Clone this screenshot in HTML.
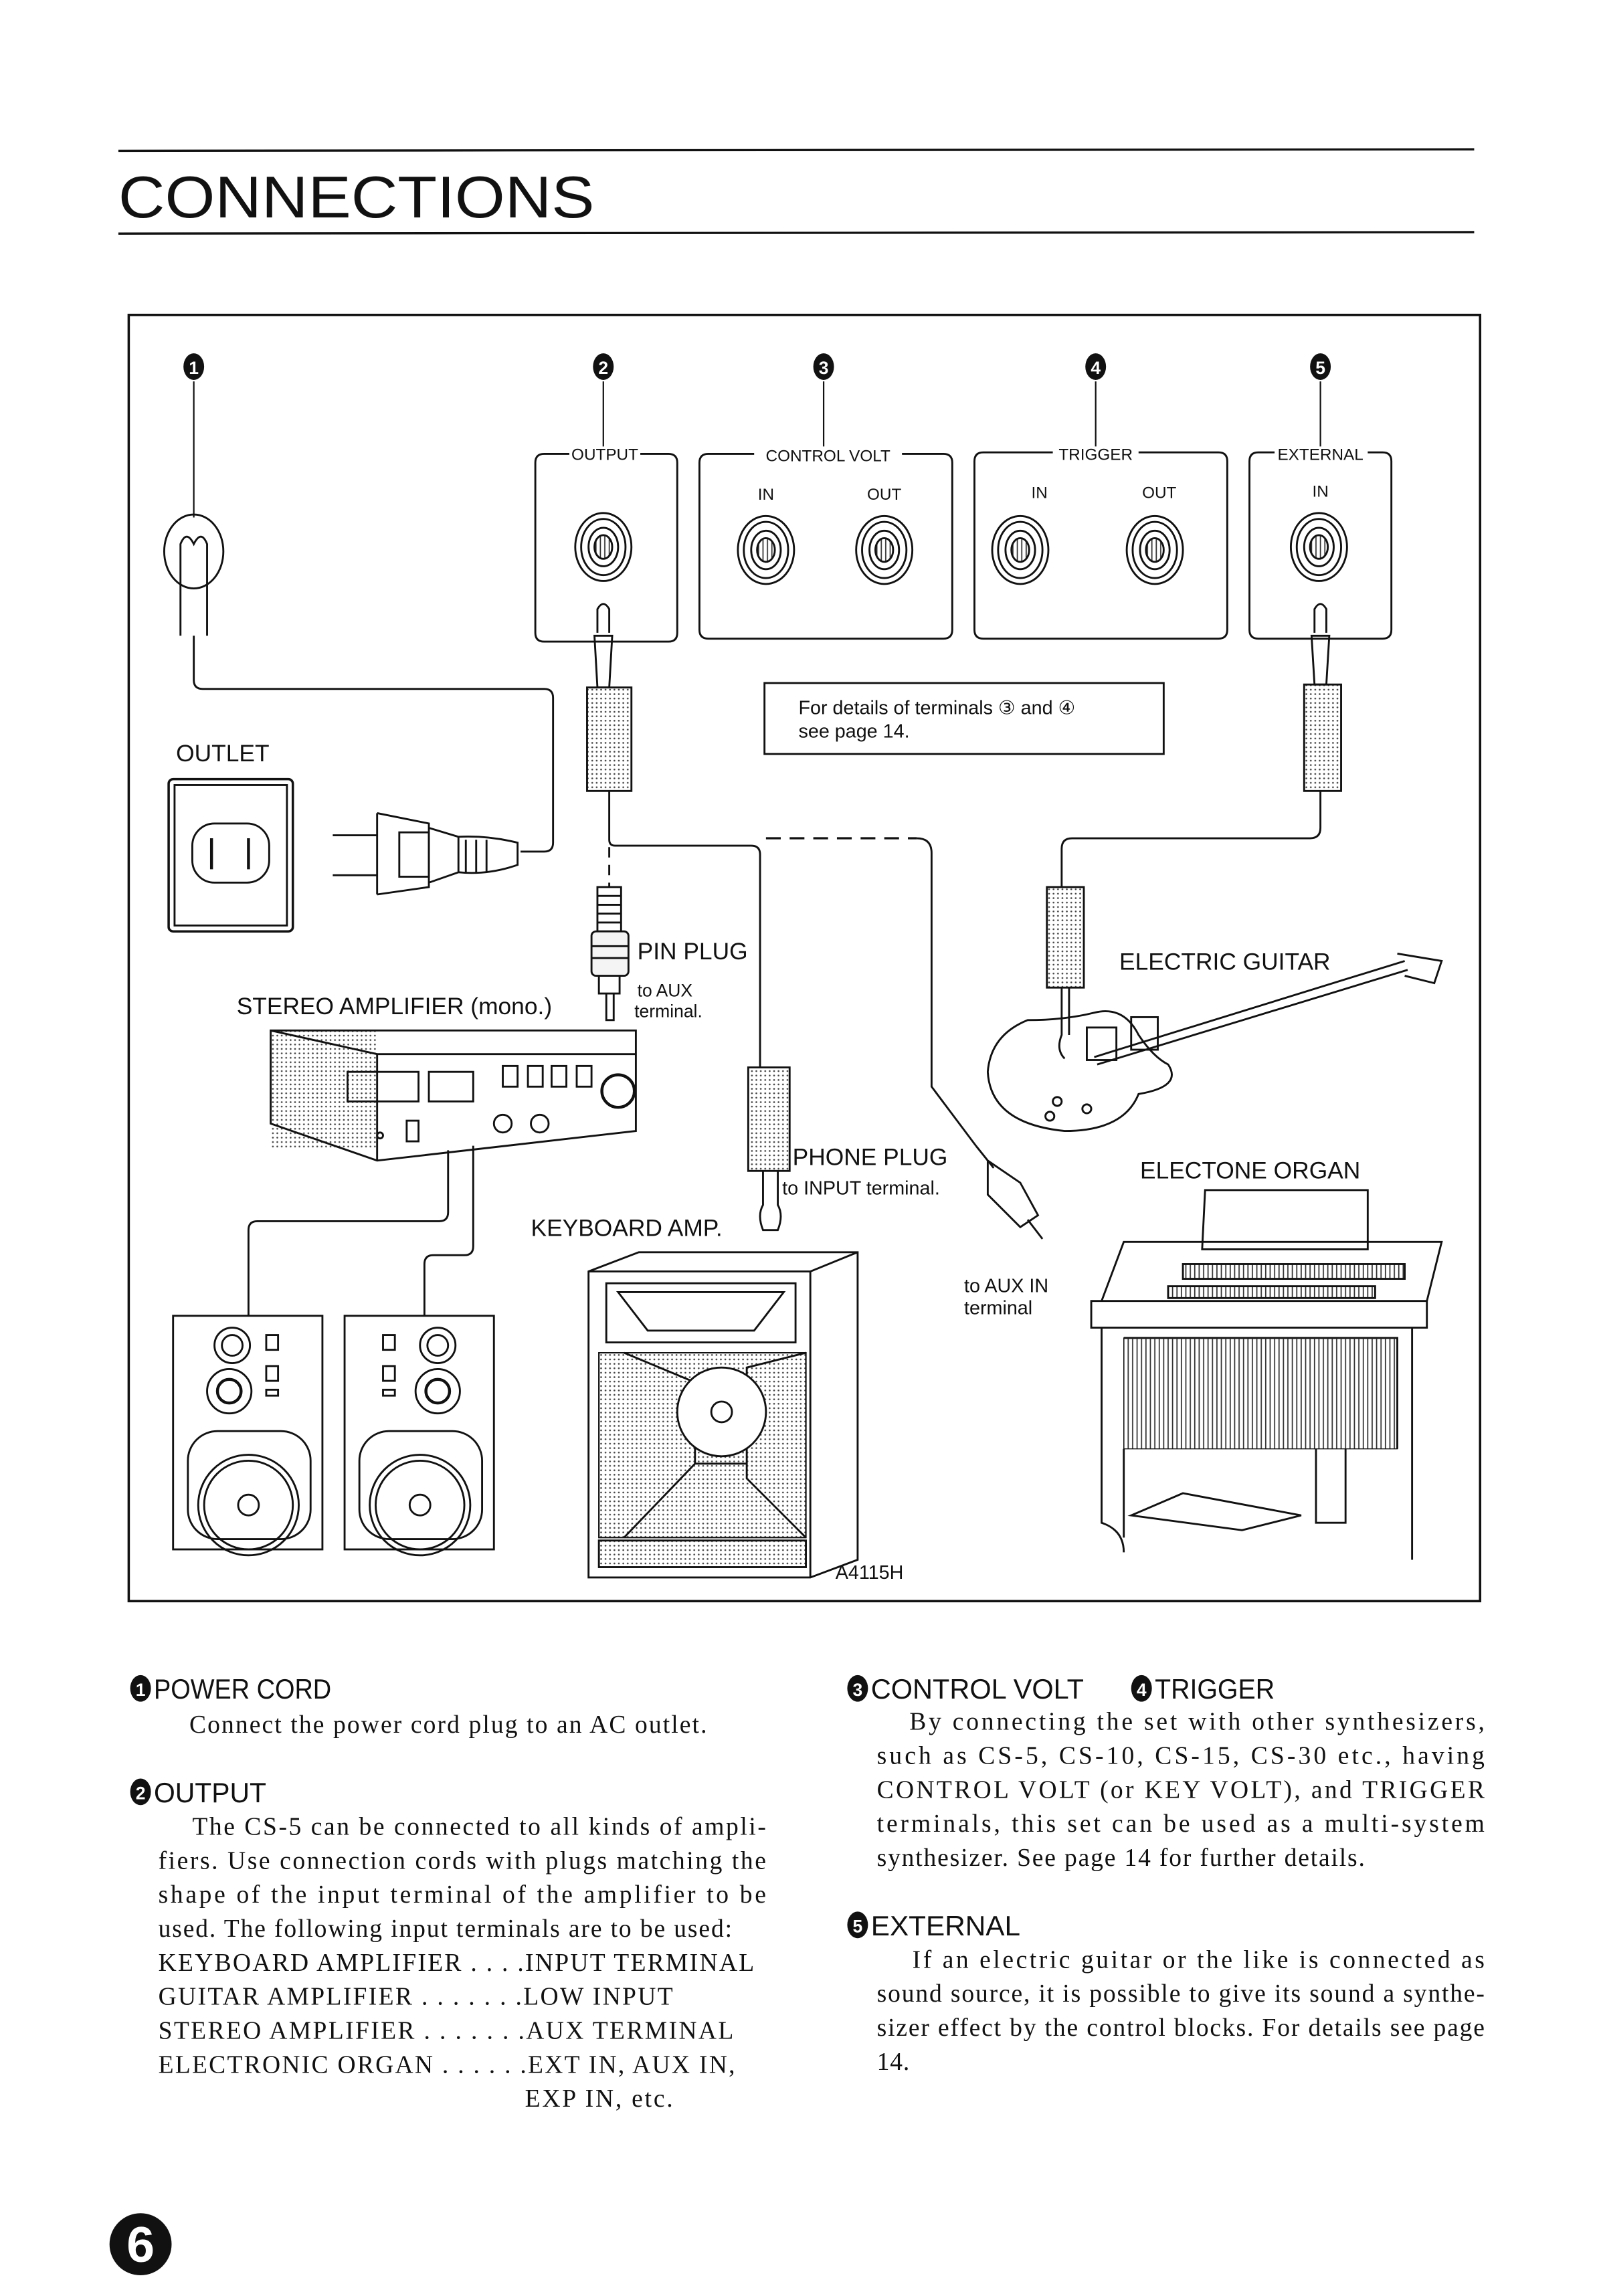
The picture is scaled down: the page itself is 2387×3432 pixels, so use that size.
<!DOCTYPE html>
<html><head><meta charset="utf-8"><style>
html,body{margin:0;padding:0;background:#fff}
svg{display:block}
.s{font-family:"Liberation Sans",sans-serif}
.r{font-family:"Liberation Serif",serif;font-size:17px}
.h{font-family:"Liberation Sans",sans-serif;font-size:19px}
</style></head><body>
<svg width="2387" height="3432" viewBox="0 0 1080 1553" xmlns="http://www.w3.org/2000/svg" fill="none" stroke="#111" stroke-width="1.3">
<defs>
<pattern id="vl" width="3" height="10" patternUnits="userSpaceOnUse"><line x1="1" y1="0" x2="1" y2="10" stroke="#333" stroke-width="0.8"/></pattern>
<pattern id="dt" width="3" height="3" patternUnits="userSpaceOnUse"><circle cx="1.5" cy="1.5" r="0.6" fill="#444" stroke="none"/></pattern>
</defs>
<rect x="0" y="0" width="1080" height="1553" fill="#fff" stroke="none"/>
<line x1="80" y1="102" x2="997" y2="101" stroke-width="1.5"/>
<text x="80" y="147" class="s" font-size="40" fill="#111" stroke="none" textLength="322" lengthAdjust="spacingAndGlyphs">CONNECTIONS</text>
<line x1="80" y1="158" x2="997" y2="157" stroke-width="1.5"/>
<rect x="87" y="213" width="914" height="870" stroke-width="1.6"/>
<g fill="#111" stroke="none">
<ellipse cx="131" cy="248" rx="7" ry="9"/><ellipse cx="408" cy="248" rx="7" ry="9"/><ellipse cx="557" cy="248" rx="7" ry="9"/><ellipse cx="741" cy="248" rx="7" ry="9"/><ellipse cx="893" cy="248" rx="7" ry="9"/>
</g>
<g fill="#fff" stroke="none" class="s" font-size="12" font-weight="bold" text-anchor="middle">
<text x="131" y="253">1</text><text x="408" y="253">2</text><text x="557" y="253">3</text><text x="741" y="253">4</text><text x="893" y="253">5</text>
</g>
<g stroke-width="1"><line x1="131" y1="258" x2="131" y2="350"/><line x1="408" y1="258" x2="408" y2="302"/><line x1="557" y1="258" x2="557" y2="302"/><line x1="741" y1="258" x2="741" y2="302"/><line x1="893" y1="258" x2="893" y2="302"/></g>
<path d="M385 307 H368 Q362 307 362 313 V428 Q362 434 368 434 H452 Q458 434 458 428 V313 Q458 307 452 307 H433"/>
<path d="M510 307 H479 Q473 307 473 313 V426 Q473 432 479 432 H638 Q644 432 644 426 V313 Q644 307 638 307 H610"/>
<path d="M712 306 H665 Q659 306 659 312 V426 Q659 432 665 432 H824 Q830 432 830 426 V312 Q830 306 824 306 H770"/>
<path d="M862 306 H851 Q845 306 845 312 V426 Q845 432 851 432 H935 Q941 432 941 426 V312 Q941 306 935 306 H925"/>
<g class="s" font-size="11" fill="#111" stroke="none" text-anchor="middle">
<text x="409" y="311">OUTPUT</text><text x="560" y="312">CONTROL VOLT</text><text x="741" y="311">TRIGGER</text><text x="893" y="311">EXTERNAL</text>
<text x="518" y="338">IN</text><text x="598" y="338">OUT</text><text x="703" y="337">IN</text><text x="784" y="337">OUT</text><text x="893" y="336">IN</text>
</g>
<g id="j">
<ellipse cx="408" cy="370" rx="19" ry="23"/><ellipse cx="408" cy="370" rx="15" ry="19"/><ellipse cx="408" cy="370" rx="10" ry="13"/><ellipse cx="408" cy="370" rx="6" ry="8" fill="url(#vl)"/>
</g>
<use href="#j" x="110" y="2"/><use href="#j" x="190" y="2"/><use href="#j" x="282" y="2"/><use href="#j" x="373" y="2"/><use href="#j" x="484" y="0"/>
<ellipse cx="131" cy="373" rx="20" ry="25"/>
<path d="M122 430 V368 Q126 358 131 368 Q136 358 140 368 V430"/>
<path d="M131 430 V460 Q131 466 137 466 H368 Q374 466 374 472 V570 Q374 576 368 576 H352"/>
<text x="119" y="515" class="s" font-size="16" fill="#111" stroke="none">OUTLET</text>
<rect x="114" y="527" width="84" height="103" rx="3" stroke-width="1.6"/>
<rect x="118" y="531" width="76" height="95"/>
<rect x="130" y="557" width="52" height="40" rx="15"/>
<line x1="143" y1="567" x2="143" y2="588" stroke-width="2"/><line x1="168" y1="567" x2="168" y2="588" stroke-width="2"/>
<path d="M225 565 H255 M225 592 H255 M255 550 V605 M255 550 L290 557 V600 L255 605 M290 560 L310 566 V590 L290 597 M310 566 Q330 565 350 570 V585 Q330 592 310 590"/>
<rect x="270" y="563" width="20" height="30"/>
<path d="M315 568 V590 M322 568 V590 M329 568 V590"/>
<path d="M404 428 V412 Q408 405 412 412 V428 M402 430 H414 L412 465 H404 Z"/>
<rect x="397" y="465" width="30" height="70" fill="url(#dt)"/>
<path d="M412 535 V568 Q412 572 416 572 H508 Q514 572 514 578 V722"/>
<line x1="412" y1="573" x2="412" y2="600" stroke-dasharray="7 5"/>
<line x1="518" y1="567" x2="620" y2="567" stroke-dasharray="10 6" stroke-width="1.5"/>
<path d="M620 567 Q630 567 630 577 V735 L660 775"/>
<rect x="404" y="600" width="16" height="30"/>
<path d="M404 606 H420 M404 612 H420 M404 618 H420 M404 624 H420"/>
<rect x="400" y="630" width="25" height="30" rx="3" fill="#f4f4f4"/>
<path d="M400 640 H425 M400 648 H425 M405 660 V672 H419 V660 M410 672 V690 H415 V672"/>
<text x="431" y="649" class="s" font-size="16" fill="#111" stroke="none">PIN PLUG</text>
<text x="431" y="674" class="s" font-size="12" fill="#111" stroke="none">to AUX</text>
<text x="429" y="688" class="s" font-size="12" fill="#111" stroke="none">terminal.</text>
<text x="160" y="686" class="s" font-size="16" fill="#111" stroke="none">STEREO AMPLIFIER (mono.)</text>
<rect x="183" y="697" width="72" height="80" fill="url(#dt)" stroke="none"/>
<path d="M183 697 H430 V765 L255 785 L183 760 Z"/>
<path d="M183 697 L255 713 V785 M255 713 H430" />
<rect x="235" y="725" width="48" height="20"/><rect x="290" y="725" width="30" height="20"/>
<rect x="340" y="721" width="10" height="14"/><rect x="357" y="721" width="10" height="14"/><rect x="373" y="721" width="10" height="14"/><rect x="390" y="721" width="10" height="14"/>
<circle cx="418" cy="738" r="11" stroke-width="2"/>
<circle cx="257" cy="768" r="2"/><rect x="275" y="758" width="8" height="14"/><circle cx="340" cy="760" r="6"/><circle cx="365" cy="760" r="6"/>
<path d="M303 778 V820 Q303 826 297 826 H174 Q168 826 168 832 V890"/>
<path d="M320 775 V843 Q320 849 314 849 H293 Q287 849 287 855 V890"/>
<g>
<rect x="117" y="890" width="101" height="158"/>
<circle cx="157" cy="910" r="12"/><circle cx="157" cy="910" r="7"/>
<circle cx="155" cy="941" r="15"/><circle cx="155" cy="941" r="8" stroke-width="2"/>
<rect x="180" y="903" width="8" height="10"/><rect x="180" y="924" width="8" height="10"/><rect x="180" y="940" width="8" height="4"/>
<rect x="127" y="968" width="83" height="73" rx="20"/><circle cx="168" cy="1018" r="34"/><circle cx="168" cy="1018" r="30"/><circle cx="168" cy="1018" r="7"/>
</g>
<g transform="translate(116 0)">
<rect x="117" y="890" width="101" height="158"/>
<circle cx="180" cy="910" r="12"/><circle cx="180" cy="910" r="7"/>
<circle cx="180" cy="941" r="15"/><circle cx="180" cy="941" r="8" stroke-width="2"/>
<rect x="143" y="903" width="8" height="10"/><rect x="143" y="924" width="8" height="10"/><rect x="143" y="940" width="8" height="4"/>
<rect x="127" y="968" width="83" height="73" rx="20"/><circle cx="168" cy="1018" r="34"/><circle cx="168" cy="1018" r="30"/><circle cx="168" cy="1018" r="7"/>
</g>
<rect x="506" y="722" width="28" height="70" fill="url(#dt)"/>
<path d="M516 792 V815 Q512 822 516 832 H526 Q530 822 526 815 V792"/>
<text x="536" y="788" class="s" font-size="16" fill="#111" stroke="none">PHONE PLUG</text>
<text x="529" y="808" class="s" font-size="13" fill="#111" stroke="none">to INPUT terminal.</text>
<text x="359" y="836" class="s" font-size="16" fill="#111" stroke="none">KEYBOARD AMP.</text>
<path d="M398 860 L432 847 H580 V1055 L548 1067 H398 Z M398 860 H548 V1067 M548 860 L580 847"/>
<rect x="410" y="868" width="128" height="40"/><path d="M418 874 H530 L510 900 H438 Z"/>
<path d="M405 915 H545 V1040 H405 Z" fill="url(#dt)" stroke-width="1"/>
<path d="M422 915 L470 935 V990 L422 1040 M545 915 L505 925 V1000 L545 1040 M470 990 H505" />
<circle cx="488" cy="955" r="30" fill="#fff"/><circle cx="488" cy="955" r="7"/>
<rect x="405" y="1042" width="140" height="18" fill="url(#dt)"/>
<text x="565" y="1068" class="s" font-size="13" fill="#111" stroke="none">A4115H</text>
<rect x="517" y="462" width="270" height="48"/>
<text x="540" y="483" class="s" font-size="13" fill="#111" stroke="none">For details of terminals ③ and ④</text>
<text x="540" y="499" class="s" font-size="13" fill="#111" stroke="none">see page 14.</text>
<path d="M889 428 V412 Q893 405 897 412 V428 M887 430 H899 L897 463 H889 Z"/>
<rect x="882" y="463" width="25" height="72" fill="url(#dt)"/>
<path d="M893 535 V560 Q893 567 886 567 H725 Q718 567 718 574 V600"/>
<rect x="708" y="600" width="25" height="68" fill="url(#dt)"/>
<path d="M718 668 V700 Q714 710 720 716 M723 668 V700"/>
<text x="757" y="656" class="s" font-size="16" fill="#111" stroke="none">ELECTRIC GUITAR</text>
<path d="M695 690 Q670 700 668 725 Q670 760 720 765 Q760 765 770 740 Q800 735 790 720 Q780 715 770 700 Q760 680 740 685 Q720 690 695 690 Z"/>
<path d="M740 715 L950 650 M742 720 L952 656 M945 645 L975 650 L970 665 L950 660"/>
<rect x="735" y="695" width="20" height="22"/><rect x="765" y="688" width="18" height="22"/>
<circle cx="715" cy="745" r="3"/><circle cx="735" cy="750" r="3"/><circle cx="710" cy="755" r="3"/>
<text x="771" y="797" class="s" font-size="16" fill="#111" stroke="none">ELECTONE ORGAN</text>
<path d="M660 775 L672 790 M668 785 L690 800 L702 822 L690 830 L668 808 Z M695 825 L705 838"/>
<text x="652" y="874" class="s" font-size="13" fill="#111" stroke="none">to AUX IN</text>
<text x="652" y="889" class="s" font-size="13" fill="#111" stroke="none">terminal</text>
<path d="M815 805 H925 V845 H813 Z"/>
<path d="M760 840 H975 L965 880 H745 Z M738 880 H965 V898 H738 Z"/>
<rect x="800" y="855" width="150" height="10" fill="url(#vl)"/><rect x="790" y="870" width="140" height="8" fill="url(#vl)"/>
<path d="M745 898 V1030 Q760 1035 760 1050 M955 898 V1055 M760 905 H945 V980" />
<rect x="760" y="905" width="185" height="75" fill="url(#vl)" stroke-width="0.6"/>
<path d="M760 980 V1040 M890 980 V1030 H910 V980"/>
<path d="M765 1025 L800 1010 L880 1025 L840 1035 Z"/>
<g fill="#111" stroke="none">
<ellipse cx="95" cy="1142" rx="7" ry="9"/><ellipse cx="95" cy="1212" rx="7" ry="9"/><ellipse cx="580" cy="1142" rx="7" ry="9"/><ellipse cx="772" cy="1142" rx="7" ry="9"/><ellipse cx="580" cy="1302" rx="7" ry="9"/>
<circle cx="95" cy="1518" r="21"/>
</g>
<g fill="#fff" stroke="none" class="s" font-size="12" font-weight="bold" text-anchor="middle">
<text x="95" y="1147">1</text><text x="95" y="1217">2</text><text x="580" y="1147">3</text><text x="772" y="1147">4</text><text x="580" y="1307">5</text>
<text x="95" y="1530" font-size="34">6</text>
</g>
<g fill="#111" stroke="none">
<text x="104" y="1149" class="h" textLength="120" lengthAdjust="spacingAndGlyphs">POWER CORD</text>
<text x="104" y="1219" class="h" textLength="76" lengthAdjust="spacingAndGlyphs">OUTPUT</text>
<text x="589" y="1149" class="h" textLength="144" lengthAdjust="spacingAndGlyphs">CONTROL VOLT</text>
<text x="781" y="1149" class="h" textLength="81" lengthAdjust="spacingAndGlyphs">TRIGGER</text>
<text x="589" y="1309" class="h" textLength="101" lengthAdjust="spacingAndGlyphs">EXTERNAL</text>
<g class="r" lengthAdjust="spacingAndGlyphs">
<text x="128" y="1172" textLength="350">Connect the power cord plug to an AC outlet.</text>
<text x="130" y="1241" textLength="388">The CS-5 can be connected to all kinds of ampli-</text>
<text x="107" y="1264" textLength="411">fiers. Use connection cords with plugs matching the</text>
<text x="107" y="1287" textLength="411">shape of the input terminal of the amplifier to be</text>
<text x="107" y="1310" textLength="388">used. The following input terminals are to be used:</text>
<text x="107" y="1333" textLength="403">KEYBOARD AMPLIFIER . . . .INPUT TERMINAL</text>
<text x="107" y="1356" textLength="348">GUITAR AMPLIFIER . . . . . . .LOW INPUT</text>
<text x="107" y="1379" textLength="389">STEREO AMPLIFIER . . . . . . .AUX TERMINAL</text>
<text x="107" y="1402" textLength="390">ELECTRONIC ORGAN . . . . . .EXT IN, AUX IN,</text>
<text x="355" y="1425" textLength="100">EXP IN, etc.</text>
<text x="615" y="1170" textLength="389">By connecting the set with other synthesizers,</text>
<text x="593" y="1193" textLength="411">such as CS-5, CS-10, CS-15, CS-30 etc., having</text>
<text x="593" y="1216" textLength="411">CONTROL VOLT (or KEY VOLT), and TRIGGER</text>
<text x="593" y="1239" textLength="411">terminals, this set can be used as a multi-system</text>
<text x="593" y="1262" textLength="330">synthesizer. See page 14 for further details.</text>
<text x="617" y="1331" textLength="387">If an electric guitar or the like is connected as</text>
<text x="593" y="1354" textLength="411">sound source, it is possible to give its sound a synthe-</text>
<text x="593" y="1377" textLength="411">sizer effect by the control blocks. For details see page</text>
<text x="593" y="1400" textLength="22">14.</text>
</g>
</g>
</svg>
</body></html>
